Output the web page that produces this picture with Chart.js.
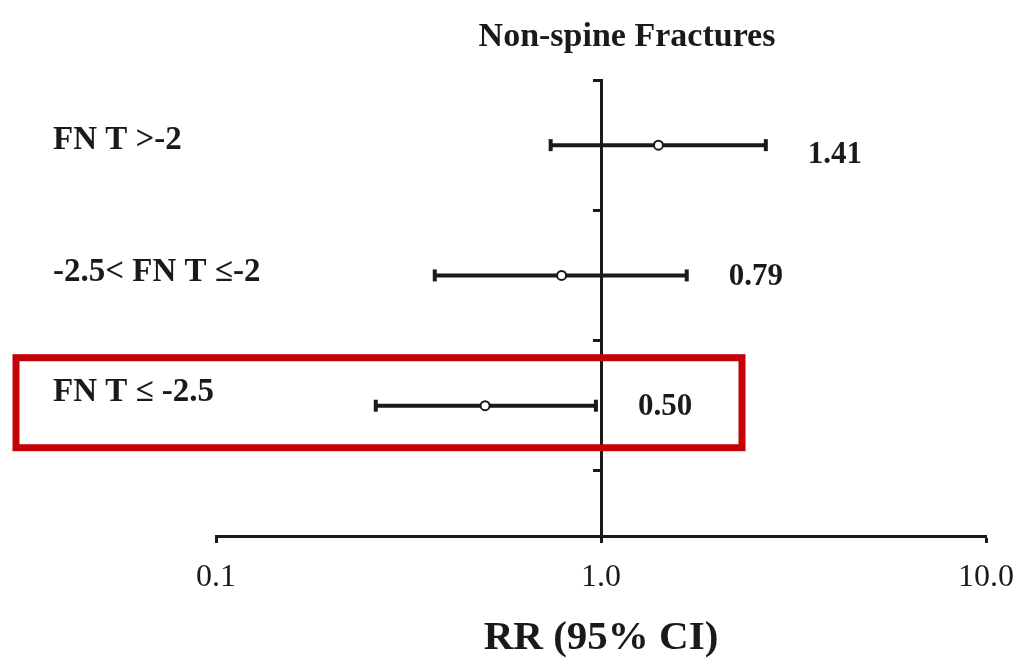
<!DOCTYPE html>
<html>
<head>
<meta charset="utf-8">
<title>Non-spine Fractures</title>
<script src="https://cdn.jsdelivr.net/npm/chart.js@4.4.0/dist/chart.umd.min.js"></script>
<style>
    html, body { margin: 0; padding: 0; background: #fff; }
    #wrap { width: 1029px; height: 661px; }
</style>
</head>
<body>
<div id="wrap"><canvas id="forest" width="1029" height="661"></canvas></div>
<script>
// groups by femoral neck T-score, top to bottom
let groups = ['FN T >-2', '-2.5< FN T ≤-2', 'FN T ≤ -2.5'];
let rr = [1.41, 0.79, 0.50];
let ciLow = [0.74, 0.37, 0.26];
let ciHigh = [2.68, 1.67, 0.97];
let rowPos = [3, 2, 1];

let xTicks = [0.1, 1, 10];
let xTickLabels = ['0.1', '1.0', '10.0'];
let yTicks = [0.5, 1.5, 2.5, 3.5];

const serif = '"Liberation Serif", "Times New Roman", serif';
const ink = '#1a1a1a';

// small vertical nudges for the text next to each row
let nameShift = [-5, -3, -13];
let valueShift = [10, 2, 1];

let textPlugin = {
    id: 'forestText',
    afterDraw: function (chart) {
        let ctx = chart.ctx;
        let sx = chart.scales.x, sy = chart.scales.y;
        ctx.save();
        ctx.fillStyle = ink;
        ctx.textBaseline = 'middle';

        ctx.textAlign = 'center';
        ctx.font = 'bold 34px ' + serif;
        ctx.fillText('Non-spine Fractures', 627, 37);

        ctx.textAlign = 'left';
        ctx.font = 'bold 33px ' + serif;
        groups.forEach(function (g, i) {
            ctx.fillText(g, 53, sy.getPixelForValue(rowPos[i]) + nameShift[i]);
        });

        // RR value to the right of each interval
        ctx.font = 'bold 31px ' + serif;
        rr.forEach(function (v, i) {
            ctx.fillText(v.toFixed(2), sx.getPixelForValue(ciHigh[i]) + 42, sy.getPixelForValue(rowPos[i]) + valueShift[i]);
        });

        // red frame around the lowest T-score group
        let yr = sy.getPixelForValue(rowPos[2]);
        ctx.strokeStyle = '#c40008';
        ctx.lineWidth = 7;
        ctx.strokeRect(16, yr - 48, 726, 90);
        ctx.restore();
    }
};

let datasets = groups.map(function (g, i) {
    return {
        label: g,
        data: [{x: ciLow[i], y: rowPos[i]}, {x: ciHigh[i], y: rowPos[i]}],
        showLine: true,
        borderColor: ink,
        borderWidth: 4,
        pointStyle: 'line',
        pointRotation: 90,
        pointRadius: 6,
        pointBorderWidth: 4,
        pointBorderColor: ink,
        order: 1
    };
});

datasets.push({
    label: 'RR',
    data: rr.map(function (v, i) { return {x: v, y: rowPos[i]}; }),
    showLine: false,
    pointStyle: 'circle',
    pointRadius: 4.5,
    pointBorderWidth: 2,
    pointBorderColor: ink,
    pointBackgroundColor: '#fff',
    order: 0
});

new Chart(document.getElementById('forest').getContext('2d'), {
    type: 'scatter',
    data: {datasets: datasets},
    plugins: [textPlugin],
    options: {
        responsive: false,
        animation: false,
        layout: {padding: {left: 216, right: 38, top: 80, bottom: 2}},
        plugins: {
            legend: {display: false},
            tooltip: {enabled: false}
        },
        scales: {
            x: {
                type: 'logarithmic',
                min: 0.1,
                max: 10,
                afterBuildTicks: function (scale) {
                    scale.ticks = xTicks.map(function (v) { return {value: v}; });
                },
                ticks: {
                    callback: function (v, i) { return xTickLabels[i]; },
                    font: {family: serif, size: 32, lineHeight: 1.25},
                    color: ink,
                    padding: 15,
                    maxRotation: 0,
                    autoSkip: false
                },
                grid: {drawOnChartArea: false, tickLength: 7, tickWidth: 3, color: ink},
                border: {color: ink, width: 3},
                title: {
                    display: true,
                    text: 'RR (95% CI)',
                    font: {family: serif, size: 41, weight: 'bold', lineHeight: 1},
                    color: ink,
                    padding: {top: 5, bottom: 0}
                }
            },
            y: {
                type: 'linear',
                min: 0,
                max: 3.5,
                position: {x: 1},
                afterBuildTicks: function (scale) {
                    scale.ticks = yTicks.map(function (v) { return {value: v}; });
                },
                ticks: {display: false},
                grid: {drawOnChartArea: false, tickLength: 7, tickWidth: 3, color: ink},
                border: {color: ink, width: 3}
            }
        }
    }
});
</script>
</body>
</html>
